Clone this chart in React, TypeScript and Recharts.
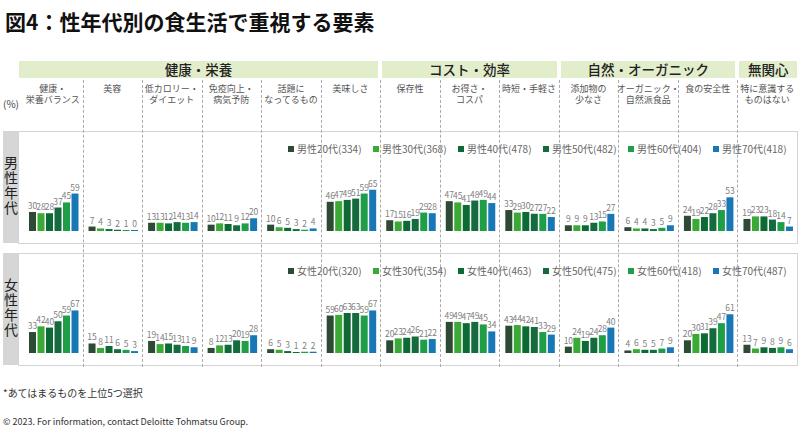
import { BarChart, Bar, XAxis, YAxis, Legend, LabelList } from 'recharts';

const categories = [
  '健康・\n栄養バランス', '美容', '低カロリー・\nダイエット', '免疫向上・\n病気予防', '話題に\nなってるもの', '美味しさ',
  '保存性', 'お得さ・\nコスパ', '時短・手軽さ',
  '添加物の\n少なさ', 'オーガニック・\n自然派食品', '食の安全性',
  '特に意識する\nものはない',
];

const groups = [
  { name: '健康・栄養', start: 0, end: 6 },
  { name: 'コスト・効率', start: 6, end: 9 },
  { name: '自然・オーガニック', start: 9, end: 12 },
  { name: '無関心', start: 12, end: 13 },
];

const ages = ['20代', '30代', '40代', '50代', '60代', '70代'];
const colors = ['#2d4a35', '#3aa935', '#0c6a34', '#156b3e', '#1f9e48', '#1778b5'];

const maleN = [334, 368, 478, 482, 404, 418];
const femaleN = [320, 354, 463, 475, 418, 487];

// male, by age
const male20 = [30, 7, 13, 10, 10, 46, 17, 47, 33, 9, 6, 24, 19];
const male30 = [28, 4, 13, 12, 6, 47, 15, 45, 29, 9, 4, 19, 23];
const male40 = [28, 3, 12, 11, 5, 49, 16, 41, 30, 9, 4, 22, 23];
const male50 = [37, 2, 14, 9, 3, 51, 19, 48, 27, 13, 3, 28, 18];
const male60 = [45, 1, 13, 12, 2, 59, 29, 49, 27, 15, 5, 33, 14];
const male70 = [59, 0, 14, 20, 4, 65, 28, 44, 22, 27, 9, 53, 7];

// female, by age
const female20 = [33, 15, 19, 8, 6, 59, 20, 49, 43, 10, 4, 20, 13];
const female30 = [42, 8, 14, 12, 5, 60, 23, 49, 44, 24, 6, 30, 7];
const female40 = [40, 11, 15, 13, 3, 63, 24, 47, 42, 19, 5, 31, 9];
const female50 = [50, 6, 13, 20, 1, 63, 26, 49, 41, 24, 5, 39, 8];
const female60 = [59, 5, 11, 19, 2, 59, 21, 45, 33, 28, 7, 47, 9];
const female70 = [67, 3, 9, 28, 2, 67, 22, 34, 29, 40, 9, 61, 6];

const maleSeries = [male20, male30, male40, male50, male60, male70];
const femaleSeries = [female20, female30, female40, female50, female60, female70];

const PLOT_LEFT = 23;
const PLOT_RIGHT = 797;
const COL_W = (PLOT_RIGHT - PLOT_LEFT) / categories.length;
const colX = (i: number) => PLOT_LEFT + i * COL_W;

function buildRows(series: number[][]) {
  return categories.map((c, i) => {
    const row: Record<string, string | number> = { name: c };
    series.forEach((s, k) => { row['s' + k] = s[i]; });
    return row;
  });
}

function Panel({ label, prefix, series, ns, top }: { label: string; prefix: string; series: number[][]; ns: number[]; top: number }) {
  const rows = buildRows(series);
  return (
    <>
      <div style={{ position: 'absolute', left: 3, top, width: 15, height: 112, background: '#d6d6d6' }} />
      <div style={{ position: 'absolute', left: 3, top: top + 25, width: 15, display: 'flex', justifyContent: 'center' }}>
        <span style={{ writingMode: 'vertical-rl', textOrientation: 'upright', fontSize: 14, letterSpacing: 1, lineHeight: '15px', color: '#222' }}>
          {label}
        </span>
      </div>
      <div style={{ position: 'absolute', left: 18, top, width: 778, height: 111, border: '1px solid #d4d4d4' }} />
      <div style={{ position: 'absolute', left: 20, top }}>
        <BarChart width={777} height={112} data={rows} margin={{ top: 36.5, right: 0, bottom: 12, left: 3 }} barCategoryGap={6} barGap={1.5}>
          <XAxis dataKey="name" hide />
          <YAxis domain={[0, 100]} hide />
          <Legend
            verticalAlign="middle"
            align="center"
            wrapperStyle={{ position: 'absolute', left: 268, top: 10, width: 520, height: 14 }}
            content={() => (
              <div style={{ display: 'flex' }}>
                {ages.map((a, k) => (
                  <div key={a} style={{ width: 85, display: 'flex', alignItems: 'center', fontSize: 10, color: '#666', whiteSpace: 'nowrap' }}>
                    <span style={{ display: 'inline-block', width: 6, height: 6, background: colors[k], marginRight: 3 }} />
                    {prefix}{a}({ns[k]})
                  </div>
                ))}
              </div>
            )}
          />
          {ages.map((a, k) => (
            <Bar key={a} dataKey={'s' + k} name={prefix + a} fill={colors[k]} minPointSize={1} isAnimationActive={false}>
              <LabelList dataKey={'s' + k} position="top" offset={3} fontSize={8.5} fill="#808080" />
            </Bar>
          ))}
        </BarChart>
      </div>
    </>
  );
}

export default function App() {
  return (
    <div style={{ position: 'absolute', left: 0, top: 0, width: 800, height: 431, background: '#fff', fontFamily: "'Noto Sans CJK JP', 'Noto Sans', sans-serif", overflow: 'hidden' }}>
      <div style={{ position: 'absolute', left: 5, top: 6, fontSize: 21, fontWeight: 700, color: '#111', whiteSpace: 'nowrap' }}>
        図4：性年代別の食生活で重視する要素
      </div>

      {groups.map((g) => {
        const left = g.start === 0 ? 19 : colX(g.start) + 2;
        const right = g.end === categories.length ? PLOT_RIGHT : colX(g.end) - 2;
        return (
          <div key={g.name} style={{ position: 'absolute', left, top: 61, width: right - left, height: 17, background: '#e2eecb', textAlign: 'center', fontSize: 13.5, fontWeight: 500, lineHeight: '17px', color: '#222' }}>
            {g.name}
          </div>
        );
      })}

      {categories.map((c, i) => (
        <div key={c} style={{ position: 'absolute', left: colX(i) - 6, top: 83, width: COL_W + 12, textAlign: 'center', fontSize: 9, lineHeight: '11px', color: '#555', whiteSpace: 'pre' }}>
          {c}
        </div>
      ))}
      <div style={{ position: 'absolute', left: 3, top: 96, fontSize: 10, color: '#444' }}>(%)</div>

      <Panel label="男性年代" prefix="男性" series={maleSeries} ns={maleN} top={131} />
      <Panel label="女性年代" prefix="女性" series={femaleSeries} ns={femaleN} top={253} />

      {categories.slice(1).map((c, i) => (
        <div key={'d' + i} style={{ position: 'absolute', left: colX(i + 1), top: 80, width: 0, height: 287, borderLeft: '1px dashed #aaa' }} />
      ))}

      <div style={{ position: 'absolute', left: 3, top: 385, fontSize: 10, color: '#333' }}>*あてはまるものを上位5つ選択</div>
      <div style={{ position: 'absolute', left: 3, top: 415, fontSize: 9, color: '#333' }}>© 2023. For information, contact Deloitte Tohmatsu Group.</div>
    </div>
  );
}
